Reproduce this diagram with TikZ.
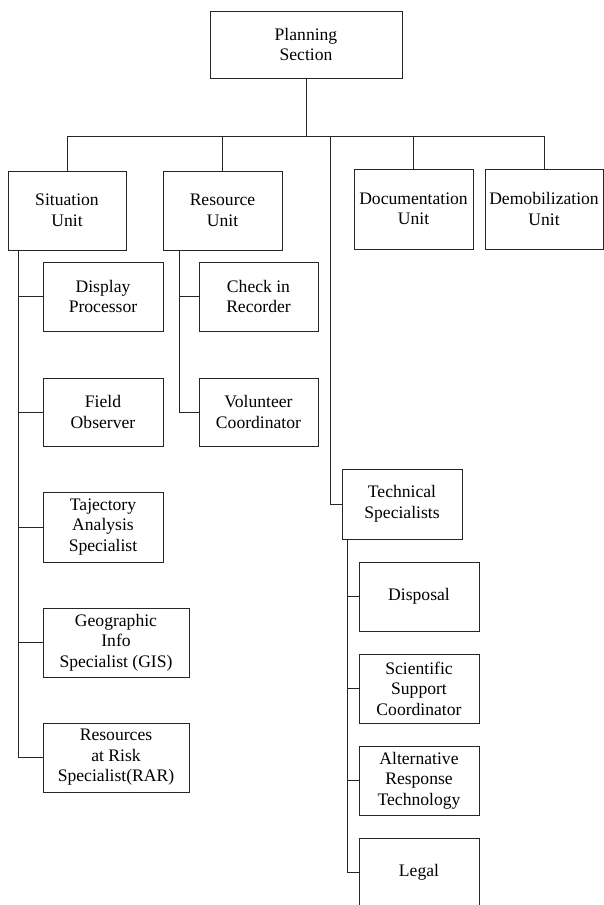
\documentclass[tikz,border=0pt]{standalone}
\usepackage{fontspec}
\setmainfont{Liberation Serif}
\usetikzlibrary{calc}
\begin{document}
\begin{tikzpicture}[x=1pt,y=-1pt,
  box/.style={draw=black!85,line width=0.8pt,align=center,inner sep=0pt,
    font=\fontsize{17.6}{20.5}\selectfont},
  link/.style={draw=black!85,line width=0.8pt}]
\clip (0,0) rectangle (604,905);
% top
\node[box,minimum width=192pt,minimum height=67pt] (plan) at (306,44.5) {Planning\\Section};
% units
\node[box,minimum width=118pt,minimum height=79pt] (sit) at (67,210.5) {Situation\\Unit};
\node[box,minimum width=119pt,minimum height=79pt] (res) at (222.5,210.5) {Resource\\Unit};
\node[box,minimum width=119pt,minimum height=80pt] (doc) at (413.5,209) {Documentation\\Unit};
\node[box,minimum width=118pt,minimum height=80pt] (dem) at (544,209) {Demobilization\\Unit};
% situation children
\node[box,minimum width=120pt,minimum height=69pt] (disp) at (103,296.5) {Display\\Processor};
\node[box,minimum width=120pt,minimum height=68pt] (field) at (103,412) {Field\\Observer};
\node[box,minimum width=120pt,minimum height=70pt] (taj) at (103,527) {Tajectory\\Analysis\\Specialist};
\node[box,minimum width=146pt,minimum height=69pt] (gis) at (116,642.5) {Geographic\\Info\\Specialist (GIS)};
\node[box,minimum width=146pt,minimum height=69pt] (rar) at (116,757.5) {Resources\\at Risk\\Specialist(RAR)};
% resource children
\node[box,minimum width=119pt,minimum height=69pt] (chk) at (258.5,296.5) {Check in\\Recorder};
\node[box,minimum width=119pt,minimum height=68pt] (vol) at (258.5,412) {Volunteer\\Coordinator};
% technical
\node[box,minimum width=120pt,minimum height=70pt] (tech) at (402,504) {Technical\\Specialists};
\node[box,minimum width=120pt,minimum height=69pt] (disl) at (419,596.5) {Disposal};
\node[box,minimum width=120pt,minimum height=69pt] (sci) at (419,688.5) {Scientific\\Support\\Coordinator};
\node[box,minimum width=120pt,minimum height=69pt] (alt) at (419,780.5) {Alternative\\Response\\Technology};
\node[box,minimum width=120pt,minimum height=69pt] (legal) at (419,872.5) {Legal};
% bus
\coordinate (busL) at (67,136);
\coordinate (busR) at (544,136);
\coordinate (techtop) at (330,136);
\draw[link] (busL) -- (busR);
\draw[link] (plan.south) -- (plan.south |- busL);
\draw[link] (sit.north) -- (sit.north |- busL);
\draw[link] (res.north) -- (res.north |- busL);
\draw[link] (doc.north) -- (doc.north |- busL);
\draw[link] (dem.north) -- (dem.north |- busL);
\draw[link] (techtop) |- (tech.west);
% situation trunk
\coordinate (sitT) at ($(sit.south west)+(11,0)$);
\draw[link] (sitT) |- (rar.west);
\draw[link] (sitT |- disp.west) -- (disp.west);
\draw[link] (sitT |- field.west) -- (field.west);
\draw[link] (sitT |- taj.west) -- (taj.west);
\draw[link] (sitT |- gis.west) -- (gis.west);
% resource trunk
\coordinate (resT) at ($(res.south west)+(17,0)$);
\draw[link] (resT) |- (vol.west);
\draw[link] (resT |- chk.west) -- (chk.west);
% technical trunk
\coordinate (techT) at ($(tech.south west)+(6,0)$);
\draw[link] (techT) |- (legal.west);
\draw[link] (techT |- disl.west) -- (disl.west);
\draw[link] (techT |- sci.west) -- (sci.west);
\draw[link] (techT |- alt.west) -- (alt.west);
\end{tikzpicture}
\end{document}
